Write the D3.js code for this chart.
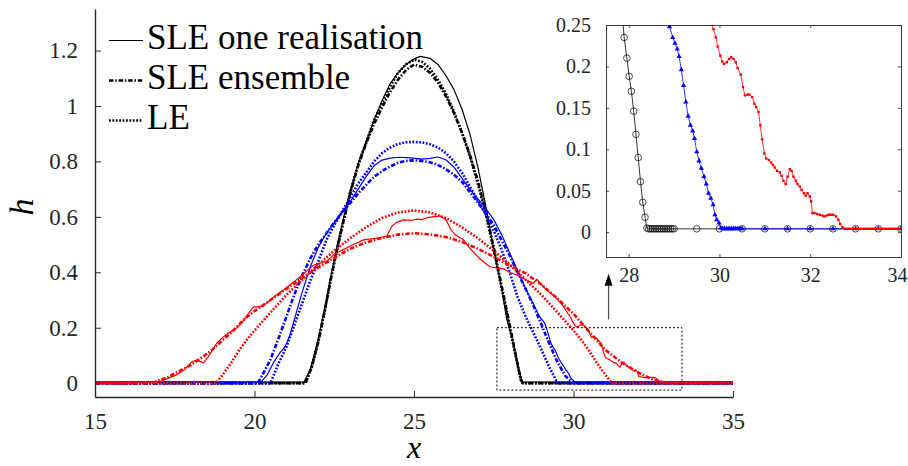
<!DOCTYPE html>
<html>
<head>
<meta charset="utf-8">
<script src="https://cdn.jsdelivr.net/npm/d3@7"></script>
<style>
  body { margin: 0; background: #fff; }
  svg { display: block; }
</style>
</head>
<body>
<div id="chart"></div>
<script>
// ---- data: [x, h] ----

// black: SLE one realisation (its tail is what the inset shows, circles)
const blackSLE = [[15,0.004],[21.55,0.004],[21.75,0.05],[22.0,0.16],[22.2,0.27],[22.4,0.39],[22.6,0.5],[22.8,0.6],[23.0,0.69],
  [23.25,0.79],[23.5,0.87],[23.75,0.95],[24.0,1.02],[24.25,1.08],[24.5,1.12],[24.75,1.15],[25.0,1.17],[25.2,1.179],[25.5,1.172],
  [25.75,1.15],[26.0,1.11],[26.25,1.06],[26.5,0.99],[26.75,0.9],[27.0,0.78],[27.25,0.64],[27.5,0.48],[27.75,0.34],
  [27.9,0.235],[27.96,0.21],[28.01,0.188],[28.06,0.17],[28.11,0.146],[28.16,0.118],[28.21,0.09],[28.26,0.061],[28.31,0.036],
  [28.36,0.018],[28.4,0.005],[28.44,0.004],[28.48,0.004],[28.52,0.004],[28.56,0.004],[28.6,0.004],[28.64,0.004],[28.68,0.004],
  [28.72,0.004],[28.76,0.004],[28.8,0.004],[28.84,0.004],[28.88,0.004],[28.92,0.004],[28.96,0.004],[29.0,0.004],[29.5,0.004],
  [30,0.004],[30.5,0.004],[31,0.004],[31.5,0.004],[32,0.004],[32.5,0.004],[33,0.004],[33.5,0.004],[34,0.004],[34.5,0.004],[35,0.004]];
// black: SLE ensemble
const blackEns = [[15,0],[21.6,0],[21.8,0.06],[22.0,0.15],[22.2,0.26],[22.4,0.38],[22.6,0.49],[22.8,0.59],[23.0,0.685],[23.25,0.785],
  [23.5,0.865],[23.75,0.935],[24.0,0.995],[24.25,1.05],[24.5,1.095],[24.75,1.13],[25.0,1.149],[25.25,1.142],[25.5,1.12],[25.75,1.085],
  [26.0,1.035],[26.25,0.975],[26.5,0.905],[26.75,0.825],[27.0,0.73],[27.25,0.62],[27.5,0.49],[27.75,0.35],[28.0,0.21],[28.2,0.095],
  [28.35,0.012],[28.42,0],[35,0]];
// black: LE
const blackLE = [[15,0],[21.6,0],[21.8,0.06],[22.0,0.15],[22.2,0.26],[22.4,0.38],[22.6,0.49],[22.8,0.59],[23.0,0.69],[23.25,0.79],
  [23.5,0.87],[23.75,0.95],[24.0,1.01],[24.25,1.07],[24.5,1.12],[24.75,1.15],[25.0,1.167],[25.25,1.16],[25.5,1.135],[25.75,1.095],
  [26.0,1.045],[26.25,0.98],[26.5,0.905],[26.75,0.82],[27.0,0.72],[27.25,0.61],[27.5,0.48],[27.75,0.34],[28.0,0.2],[28.2,0.09],
  [28.35,0.01],[28.4,0],[35,0]];

// blue: SLE one realisation (triangles in the inset)
const blueSLE = [[15,0.004],[20.2,0.004],[20.4,0.03],[20.6,0.075],[20.8,0.11],[20.95,0.13],[21.1,0.17],[21.3,0.25],[21.5,0.33],
  [21.75,0.42],[22.0,0.49],[22.25,0.54],[22.5,0.58],[22.75,0.62],[23.0,0.655],[23.25,0.7],[23.5,0.745],[23.75,0.785],[24.0,0.805],
  [24.25,0.812],[24.5,0.815],[24.75,0.814],[25.0,0.812],[25.25,0.808],[25.5,0.811],[25.75,0.816],[26.0,0.806],[26.25,0.78],
  [26.5,0.74],[26.75,0.7],[27.0,0.665],[27.25,0.63],[27.5,0.59],[27.75,0.535],[28.0,0.47],[28.25,0.405],[28.5,0.34],[28.75,0.285],
  [28.9,0.248],[28.97,0.235],[29.02,0.228],[29.07,0.221],[29.11,0.212],[29.16,0.196],[29.21,0.177],[29.26,0.157],[29.31,0.14],
  [29.36,0.129],[29.41,0.122],[29.45,0.113],[29.5,0.097],[29.55,0.086],[29.6,0.077],[29.66,0.067],[29.71,0.058],[29.76,0.047],
  [29.81,0.041],[29.86,0.033],[29.9,0.021],[29.94,0.015],[29.99,0.011],[30.03,0.005],[30.07,0.004],[30.11,0.004],[30.15,0.004],
  [30.19,0.004],[30.23,0.004],[30.27,0.004],[30.31,0.004],[30.35,0.004],[30.39,0.004],[30.43,0.004],[30.47,0.004],[30.5,0.004],
  [31,0.004],[31.5,0.004],[32,0.004],[32.5,0.004],[33,0.004],[33.5,0.004],[34,0.004],[34.5,0.004],[35,0.004]];
// blue: SLE ensemble
const blueEns = [[15,0],[20.1,0],[20.25,0.03],[20.5,0.085],[20.75,0.16],[21.0,0.24],[21.25,0.32],[21.5,0.39],[21.75,0.45],[22.0,0.5],
  [22.25,0.54],[22.5,0.58],[22.75,0.615],[23.0,0.65],[23.25,0.685],[23.5,0.715],[23.75,0.745],[24.0,0.765],[24.25,0.782],[24.5,0.795],
  [24.75,0.802],[25.0,0.804],[25.25,0.802],[25.5,0.797],[25.75,0.787],[26.0,0.772],[26.25,0.752],[26.5,0.727],[26.75,0.69],[27.0,0.652],
  [27.25,0.613],[27.5,0.57],[27.75,0.515],[28.0,0.46],[28.25,0.4],[28.5,0.34],[28.75,0.278],[29.0,0.21],[29.25,0.14],[29.5,0.075],
  [29.75,0.025],[30.0,0],[35,0]];
// blue: LE
const blueLE = [[15,0],[20.5,0],[20.75,0.07],[21.0,0.13],[21.25,0.21],[21.5,0.29],[21.75,0.37],[22.0,0.44],[22.25,0.515],[22.5,0.57],
  [22.75,0.62],[23.0,0.67],[23.25,0.72],[23.5,0.76],[23.75,0.8],[24.0,0.83],[24.25,0.85],[24.5,0.863],[24.75,0.869],[25.0,0.87],
  [25.25,0.869],[25.5,0.862],[25.75,0.85],[26.0,0.83],[26.25,0.8],[26.5,0.76],[26.75,0.71],[27.0,0.66],[27.25,0.61],[27.5,0.55],
  [27.75,0.48],[28.0,0.4],[28.25,0.31],[28.5,0.24],[28.75,0.18],[29.0,0.12],[29.25,0.055],[29.5,0],[35,0]];

// red: SLE one realisation (small dots in the inset)
const redSLE = [[15,0.004],[16.9,0.004],[17.04,0.006],[17.3,0.018],[17.56,0.03],[17.8,0.048],[18.03,0.077],[18.19,0.083],[18.4,0.073],
  [18.55,0.095],[18.81,0.143],[19.0,0.165],[19.2,0.183],[19.4,0.195],[19.6,0.216],[19.8,0.25],[19.96,0.274],[20.28,0.278],[20.59,0.31],
  [21.01,0.345],[21.43,0.384],[21.84,0.425],[22.26,0.44],[22.5,0.465],[22.75,0.48],[23.0,0.495],[23.42,0.517],[23.83,0.523],[24.14,0.53],
  [24.3,0.565],[24.45,0.58],[24.67,0.589],[24.9,0.587],[25.08,0.592],[25.25,0.59],[25.4,0.597],[25.6,0.6],[25.82,0.603],[26.0,0.59],
  [26.15,0.555],[26.3,0.535],[26.55,0.517],[26.76,0.485],[27.07,0.448],[27.38,0.42],[27.6,0.415],[27.8,0.413],[28.0,0.4],[28.22,0.39],
  [28.53,0.372],[28.74,0.36],[28.85,0.375],[29.0,0.355],[29.16,0.336],[29.47,0.306],[29.69,0.276],[29.83,0.25],[29.87,0.245],
  [29.92,0.235],[29.96,0.224],[30.02,0.213],[30.06,0.206],[30.1,0.203],[30.16,0.205],[30.21,0.209],[30.26,0.211],[30.31,0.209],
  [30.36,0.205],[30.4,0.198],[30.47,0.19],[30.52,0.175],[30.56,0.165],[30.62,0.166],[30.66,0.166],[30.72,0.163],[30.77,0.155],
  [30.81,0.151],[30.86,0.145],[30.9,0.129],[30.94,0.112],[30.99,0.095],[31.03,0.089],[31.09,0.087],[31.14,0.084],[31.18,0.081],
  [31.22,0.078],[31.27,0.074],[31.33,0.072],[31.37,0.068],[31.41,0.062],[31.46,0.058],[31.5,0.067],[31.55,0.076],[31.59,0.074],
  [31.63,0.067],[31.68,0.062],[31.72,0.058],[31.77,0.055],[31.81,0.051],[31.86,0.047],[31.9,0.044],[31.94,0.047],[31.99,0.043],
  [32.02,0.037],[32.05,0.023],[32.09,0.023],[32.15,0.022],[32.21,0.021],[32.27,0.02],[32.31,0.019],[32.36,0.02],[32.41,0.021],
  [32.46,0.021],[32.51,0.021],[32.57,0.019],[32.62,0.015],[32.66,0.01],[32.71,0.006],[32.77,0.004],[32.82,0.004],[32.86,0.004],
  [32.91,0.004],[32.95,0.004],[33.0,0.004],[33.04,0.004],[33.09,0.004],[33.13,0.004],[33.18,0.004],[33.22,0.004],[33.27,0.004],
  [33.31,0.004],[33.36,0.004],[33.4,0.004],[33.45,0.004],[33.49,0.004],[33.54,0.004],[33.58,0.004],[33.63,0.004],[33.67,0.004],
  [33.72,0.004],[33.76,0.004],[33.81,0.004],[33.85,0.004],[33.9,0.004],[33.94,0.004],[33.99,0.004],[34.5,0.004],[35,0.004]];
// red: SLE ensemble
const redEns = [[15,0],[16.8,0],[17.0,0.01],[17.25,0.02],[17.5,0.035],[17.75,0.05],[18.0,0.065],[18.25,0.085],[18.5,0.105],[18.75,0.128],
  [19.0,0.155],[19.25,0.18],[19.5,0.21],[19.75,0.238],[20.0,0.26],[20.5,0.3],[21.0,0.34],[21.5,0.38],[22.0,0.418],[22.5,0.452],
  [23.0,0.485],[23.5,0.508],[24.0,0.524],[24.5,0.536],[25.0,0.541],[25.5,0.537],[26.0,0.527],[26.5,0.51],[27.0,0.485],[27.5,0.456],
  [28.0,0.425],[28.5,0.396],[29.0,0.355],[29.5,0.305],[30.0,0.25],[30.5,0.185],[31.0,0.12],[31.5,0.075],[32.0,0.04],[32.5,0.012],
  [33.0,0],[35,0]];
// red: LE
const redLE = [[15,0],[18.8,0],[19.0,0.03],[19.25,0.07],[19.5,0.115],[19.75,0.155],[20.0,0.19],[20.5,0.255],[21.0,0.318],[21.5,0.373],
  [22.0,0.428],[22.5,0.478],[23.0,0.523],[23.5,0.563],[24.0,0.596],[24.5,0.616],[25.0,0.623],[25.5,0.616],[26.0,0.596],[26.5,0.563],
  [27.0,0.523],[27.5,0.478],[28.0,0.428],[28.5,0.373],[29.0,0.318],[29.5,0.255],[30.0,0.19],[30.25,0.155],[30.5,0.115],[30.75,0.07],
  [31.0,0.03],[31.2,0],[35,0]];

// ticks and labels
const xTicks = [15, 20, 25, 30, 35];
const yTicks = [0, 0.2, 0.4, 0.6, 0.8, 1, 1.2];
const insetXTicks = [28, 30, 32, 34];
const insetYTicks = [0, 0.05, 0.1, 0.15, 0.2, 0.25];
const legendLabels = ["SLE one realisation", "SLE ensemble", "LE"];

// zoom box [x0, x1, h0, h1] and the arrow [x, hFrom, hTo], in main axis units
const zoomBox = [27.6, 33.4, -0.025, 0.2];
const arrowAt = [31.1, 0.23, 0.395];

// ---- drawing ----
const W = 908, H = 466;
const serif = '"Liberation Serif", "Times New Roman", serif';
const axisColor = "#262626";

const svg = d3.select("#chart").append("svg")
  .attr("width", W).attr("height", H);

const x = d3.scaleLinear().domain([15, 35]).range([95, 733]);
const y = d3.scaleLinear().domain([-0.05, 1.35]).range([397, 9]);

// line styles: solid thin, dash-dot thick, dotted thick
const styles = {
  solid: { width: 1.2, dash: null },
  dashdot: { width: 2.6, dash: "4.5,1.8,1.5,1.8" },
  dotted: { width: 2.6, dash: "1.8,1.6" }
};

const curves = [
  { data: blackSLE, color: "#000000", style: "solid" },
  { data: blackEns, color: "#000000", style: "dashdot" },
  { data: blackLE, color: "#000000", style: "dotted" },
  { data: blueSLE, color: "#0000ff", style: "solid" },
  { data: blueEns, color: "#0000ff", style: "dashdot" },
  { data: blueLE, color: "#0000ff", style: "dotted" },
  { data: redSLE, color: "#ff0000", style: "solid" },
  { data: redEns, color: "#ff0000", style: "dashdot" },
  { data: redLE, color: "#ff0000", style: "dotted" }
];

const line = d3.line().x(d => x(d[0])).y(d => y(d[1]));

svg.append("g")
  .selectAll("path")
  .data(curves)
  .enter().append("path")
  .attr("fill", "none")
  .attr("stroke", d => d.color)
  .attr("stroke-width", d => styles[d.style].width)
  .attr("stroke-dasharray", d => styles[d.style].dash)
  .attr("stroke-linejoin", "round")
  .attr("d", d => line(d.data));

// axes (box off, ticks inward)
const xAxis = svg.append("g")
  .attr("transform", `translate(0,${y.range()[0]})`)
  .call(d3.axisBottom(x).tickValues(xTicks).tickSize(-6).tickSizeOuter(0).tickPadding(16).tickFormat(d => d));
const yAxis = svg.append("g")
  .attr("transform", `translate(${x.range()[0]},0)`)
  .call(d3.axisLeft(y).tickValues(yTicks).tickSize(-6).tickSizeOuter(0).tickPadding(17).tickFormat(d => d));
[xAxis, yAxis].forEach(g => {
  g.attr("color", axisColor).attr("font-size", 23);
  g.selectAll("text").style("font-family", serif);
  g.select(".domain").attr("stroke-width", 1.4);
  g.selectAll(".tick line").attr("stroke-width", 1);
});

// axis labels
svg.append("text")
  .attr("x", x(25)).attr("y", 458)
  .attr("text-anchor", "middle")
  .style("font-family", serif)
  .attr("font-size", 32).attr("font-style", "italic")
  .text("x");
svg.append("text")
  .attr("transform", `translate(33,${(y.range()[0] + y.range()[1]) / 2 + 4}) rotate(-90)`)
  .attr("text-anchor", "middle")
  .style("font-family", serif)
  .attr("font-size", 34).attr("font-style", "italic")
  .text("h");

// zoom box and arrow
svg.append("rect")
  .attr("x", x(zoomBox[0])).attr("y", y(zoomBox[3]))
  .attr("width", x(zoomBox[1]) - x(zoomBox[0]))
  .attr("height", y(zoomBox[2]) - y(zoomBox[3]))
  .attr("fill", "none").attr("stroke", "#000")
  .attr("stroke-width", 1).attr("stroke-dasharray", "2,2");

const ax = x(arrowAt[0]), ay0 = y(arrowAt[1]), ay1 = y(arrowAt[2]);
svg.append("line")
  .attr("x1", ax).attr("x2", ax).attr("y1", ay0).attr("y2", ay1 + 10)
  .attr("stroke", "#555").attr("stroke-width", 1.3);
svg.append("path")
  .attr("d", `M${ax},${ay1} L${ax - 4},${ay1 + 12} L${ax + 4},${ay1 + 12} Z`)
  .attr("fill", "#000");

// legend
const legend = svg.append("g");
const legendStyles = ["solid", "dashdot", "dotted"];
legendLabels.forEach((label, i) => {
  const base = 49 + i * 40;
  legend.append("line")
    .attr("x1", 109).attr("x2", 143)
    .attr("y1", base - 8.5).attr("y2", base - 8.5)
    .attr("stroke", "#000")
    .attr("stroke-width", styles[legendStyles[i]].width)
    .attr("stroke-dasharray", styles[legendStyles[i]].dash);
  legend.append("text")
    .attr("x", 147).attr("y", base)
    .style("font-family", serif)
    .attr("font-size", 35)
    .text(label);
});

// ---- inset ----
const ix = d3.scaleLinear().domain([27.5, 34]).range([606, 901]);
const iy = d3.scaleLinear().domain([-0.03, 0.25]).range([257, 25]);
const inset = svg.append("g");

inset.append("rect")
  .attr("x", ix.range()[0]).attr("y", iy.range()[1])
  .attr("width", ix.range()[1] - ix.range()[0])
  .attr("height", iy.range()[0] - iy.range()[1])
  .attr("fill", "#fff");

svg.append("clipPath").attr("id", "insetClip")
  .append("rect")
  .attr("x", ix.range()[0]).attr("y", iy.range()[1])
  .attr("width", ix.range()[1] - ix.range()[0])
  .attr("height", iy.range()[0] - iy.range()[1]);

const iline = d3.line().x(d => ix(d[0])).y(d => iy(d[1]));
const plot = inset.append("g").attr("clip-path", "url(#insetClip)");
const inView = d => d[0] >= 27.45 && d[0] <= 34.05 && d[1] <= 0.252;

// black with open circles
plot.append("path").attr("d", iline(blackSLE))
  .attr("fill", "none").attr("stroke", "#000").attr("stroke-width", 0.8);
plot.append("g").selectAll("circle")
  .data(blackSLE.filter(inView))
  .enter().append("circle")
  .attr("cx", d => ix(d[0])).attr("cy", d => iy(d[1]))
  .attr("r", 3.3)
  .attr("fill", "none").attr("stroke", "#000").attr("stroke-width", 0.7);

// blue with triangles
plot.append("path").attr("d", iline(blueSLE))
  .attr("fill", "none").attr("stroke", "#0000ff").attr("stroke-width", 0.8);
plot.append("g").selectAll("path")
  .data(blueSLE.filter(inView))
  .enter().append("path")
  .attr("transform", d => `translate(${ix(d[0])},${iy(d[1])})`)
  .attr("d", d3.symbol(d3.symbolTriangle, 12))
  .attr("fill", "#0000ff");

// red with small dots
plot.append("path").attr("d", iline(redSLE))
  .attr("fill", "none").attr("stroke", "#ff0000").attr("stroke-width", 0.8);
plot.append("g").selectAll("rect")
  .data(redSLE.filter(inView))
  .enter().append("rect")
  .attr("x", d => ix(d[0]) - 1.2).attr("y", d => iy(d[1]) - 1.2)
  .attr("width", 2.4).attr("height", 2.4)
  .attr("fill", "#ff0000");

// inset box and ticks (inward on all sides)
const ixAxis = inset.append("g")
  .attr("transform", `translate(0,${iy.range()[0]})`)
  .call(d3.axisBottom(ix).tickValues(insetXTicks).tickSize(-3).tickSizeOuter(0).tickPadding(11).tickFormat(d => d));
const iyAxis = inset.append("g")
  .attr("transform", `translate(${ix.range()[0]},0)`)
  .call(d3.axisLeft(iy).tickValues(insetYTicks).tickSize(-3).tickSizeOuter(0).tickPadding(15).tickFormat(d => d));
const ixTop = inset.append("g")
  .attr("transform", `translate(0,${iy.range()[1]})`)
  .call(d3.axisTop(ix).tickValues(insetXTicks).tickSize(-3).tickSizeOuter(0).tickFormat(""));
const iyRight = inset.append("g")
  .attr("transform", `translate(${ix.range()[1]},0)`)
  .call(d3.axisRight(iy).tickValues(insetYTicks).tickSize(-3).tickSizeOuter(0).tickFormat(""));
[ixAxis, iyAxis, ixTop, iyRight].forEach(g => {
  g.attr("color", axisColor).attr("font-size", 20);
  g.selectAll("text").style("font-family", serif);
  g.select(".domain").attr("stroke-width", 0.9);
  g.selectAll(".tick line").attr("stroke-width", 0.8);
});
// the last inset label sits against the picture edge
ixAxis.selectAll(".tick text").filter(d => d === 34).attr("dx", -4);
</script>
</body>
</html>
